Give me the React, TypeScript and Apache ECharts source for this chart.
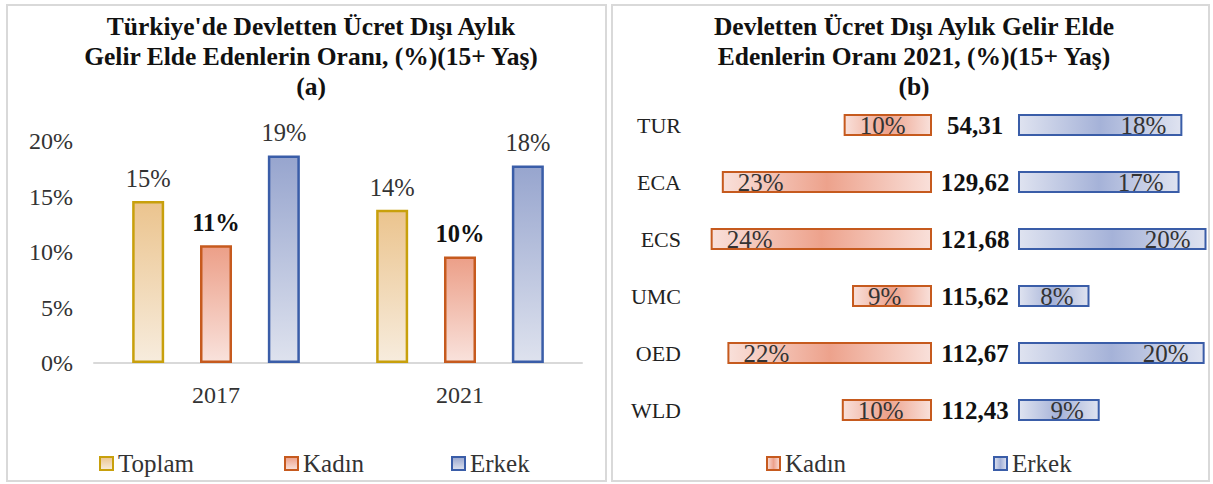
import React, { useEffect, useRef } from "react";
import * as echarts from "echarts";

const years = ["2017", "2021"];
const toplam = [14.6, 13.8];
const kadin = [10.6, 9.6];
const erkek = [18.7, 17.8];

const regions = ["TUR", "ECA", "ECS", "UMC", "OED", "WLD"];
const regionKadin = [9.5, 22.6, 23.8, 8.6, 22.0, 9.7];
const regionErkek = [17.7, 17.4, 20.3, 7.7, 20.1, 8.8];
const regionValues = [54.31, 129.62, 121.68, 115.62, 112.67, 112.43];

const titleA = "Türkiye'de Devletten Ücret Dışı Aylık\nGelir Elde Edenlerin Oranı, (%)(15+ Yaş)\n(a)";
const titleB = "Devletten Ücret Dışı Aylık Gelir Elde\nEdenlerin Oranı 2021, (%)(15+ Yaş)\n(b)";

const FONT = "'Liberation Serif', 'Times New Roman', serif";
const TXT = "#333333";

const vGrad = (top: string, bottom: string) =>
  new echarts.graphic.LinearGradient(0, 0, 0, 1, [
    { offset: 0, color: top },
    { offset: 1, color: bottom },
  ]);
const hGrad = (end: string, mid: string) =>
  new echarts.graphic.LinearGradient(0, 0, 1, 0, [
    { offset: 0, color: end },
    { offset: 0.5, color: mid },
    { offset: 1, color: end },
  ]);

const C_TOP = "#C8A00C";
const C_KAD = "#C65A1E";
const C_ERK = "#3A5DA8";

const pct = (p: any) => `${Math.round(p.value)}%`;

export default function App() {
  const ref = useRef<HTMLDivElement>(null);
  useEffect(() => {
    if (!ref.current) return;
    const chart = echarts.init(ref.current, undefined, { renderer: "svg" });
    const legendBase = {
      top: 451,
      padding: 0,
      icon: "rect",
      itemWidth: 13,
      itemHeight: 13,
      itemGap: 5,
      textStyle: { fontFamily: FONT, fontSize: 25, color: TXT },
    };
    const option: any = {
      animation: false,
      backgroundColor: "#ffffff",
      title: [
        {
          text: titleA,
          left: 311,
          top: 11,
          textAlign: "center",
          padding: 0,
          textStyle: { fontFamily: FONT, fontWeight: "bold", fontSize: 25.5, lineHeight: 30, color: "#111" },
        },
        {
          text: titleB,
          left: 914,
          top: 11,
          textAlign: "center",
          padding: 0,
          textStyle: { fontFamily: FONT, fontWeight: "bold", fontSize: 25.5, lineHeight: 30, color: "#111" },
        },
      ],
      graphic: [
        { type: "rect", shape: { x: 7, y: 5, width: 599, height: 476 }, style: { fill: "none", stroke: "#D9D9D9", lineWidth: 2 } },
        { type: "rect", shape: { x: 612, y: 5, width: 597, height: 476 }, style: { fill: "none", stroke: "#D9D9D9", lineWidth: 2 } },
      ],
      legend: [
        { ...legendBase, left: 99, data: ["Toplam"] },
        { ...legendBase, left: 284, data: ["Kadın"] },
        { ...legendBase, left: 451, data: ["Erkek"] },
        { ...legendBase, left: 766, data: [{ name: "Kadın", itemStyle: { color: hGrad("#F9E0DA", "#EDA28C") } }] },
        { ...legendBase, left: 993, data: [{ name: "Erkek", itemStyle: { color: hGrad("#DFE3F0", "#A5B2D8") } }] },
      ],
      grid: [
        { left: 94, top: 141, width: 488, height: 222 },
        { left: 699.5, top: 96.5, width: 232.5, height: 342 },
        { left: 1018, top: 96.5, width: 195.3, height: 342 },
      ],
      xAxis: [
        {
          type: "category",
          gridIndex: 0,
          data: years,
          axisLine: { lineStyle: { color: "#D9D9D9", width: 2 } },
          axisTick: { show: false },
          axisLabel: { margin: 20, fontFamily: FONT, fontSize: 24, color: TXT },
        },
        { type: "value", gridIndex: 1, inverse: true, min: 0, max: 25, show: false },
        { type: "value", gridIndex: 2, min: 0, max: 21, show: false },
      ],
      yAxis: [
        {
          type: "value",
          gridIndex: 0,
          min: 0,
          max: 20,
          interval: 5,
          axisLine: { show: false },
          axisTick: { show: false },
          splitLine: { show: false },
          axisLabel: { margin: 21, formatter: "{value}%", fontFamily: FONT, fontSize: 24, color: TXT },
        },
        {
          type: "category",
          gridIndex: 1,
          data: regions,
          inverse: true,
          axisLine: { show: false },
          axisTick: { show: false },
          axisLabel: { margin: 18.5, fontFamily: FONT, fontSize: 22, color: "#222" },
        },
        {
          type: "category",
          gridIndex: 2,
          data: regionValues.map((v) => v.toFixed(2).replace(".", ",")),
          inverse: true,
          axisLine: { show: false },
          axisTick: { show: false },
          axisLabel: { margin: 43, align: "center", fontFamily: FONT, fontSize: 25, fontWeight: "bold", color: "#111" },
        },
      ],
      series: [
        {
          name: "Toplam",
          type: "bar",
          xAxisIndex: 0,
          yAxisIndex: 0,
          data: toplam,
          barWidth: 32,
          barGap: "112%",
          itemStyle: { color: vGrad("#EBC48E", "#F7ECDD"), borderColor: C_TOP, borderWidth: 2.5 },
          label: { show: true, position: "top", distance: 10, formatter: pct, fontFamily: FONT, fontSize: 24.5, color: TXT },
        },
        {
          name: "Kadın",
          type: "bar",
          xAxisIndex: 0,
          yAxisIndex: 0,
          data: kadin,
          barWidth: 32,
          barGap: "112%",
          itemStyle: { color: vGrad("#EC9F88", "#F9E2DC"), borderColor: C_KAD, borderWidth: 2.5 },
          label: { show: true, position: "top", distance: 10, formatter: pct, fontFamily: FONT, fontSize: 24.5, fontWeight: "bold", color: "#111" },
        },
        {
          name: "Erkek",
          type: "bar",
          xAxisIndex: 0,
          yAxisIndex: 0,
          data: erkek,
          barWidth: 32,
          barGap: "112%",
          itemStyle: { color: vGrad("#97A5CE", "#DEE2EE"), borderColor: C_ERK, borderWidth: 2.5 },
          label: { show: true, position: "top", distance: 10, formatter: pct, fontFamily: FONT, fontSize: 24.5, color: TXT },
        },
        {
          name: "Kadın",
          type: "bar",
          xAxisIndex: 1,
          yAxisIndex: 1,
          data: regionKadin,
          barWidth: 22,
          itemStyle: { color: hGrad("#F9E0DA", "#EDA28C"), borderColor: C_KAD, borderWidth: 2 },
          label: { show: true, position: "insideLeft", distance: 16, formatter: pct, fontFamily: FONT, fontSize: 25, color: TXT },
        },
        {
          name: "Erkek",
          type: "bar",
          xAxisIndex: 2,
          yAxisIndex: 2,
          data: regionErkek,
          barWidth: 22,
          itemStyle: { color: hGrad("#DFE3F0", "#A5B2D8"), borderColor: C_ERK, borderWidth: 2 },
          label: { show: true, position: "insideRight", distance: 16, formatter: pct, fontFamily: FONT, fontSize: 25, color: TXT },
        },
      ],
    };
    chart.setOption(option);
    return () => chart.dispose();
  }, []);
  return (
    <div
      ref={ref}
      style={{ position: "absolute", left: 0, top: 0, width: 1213, height: 484, background: "#fff" }}
    />
  );
}
